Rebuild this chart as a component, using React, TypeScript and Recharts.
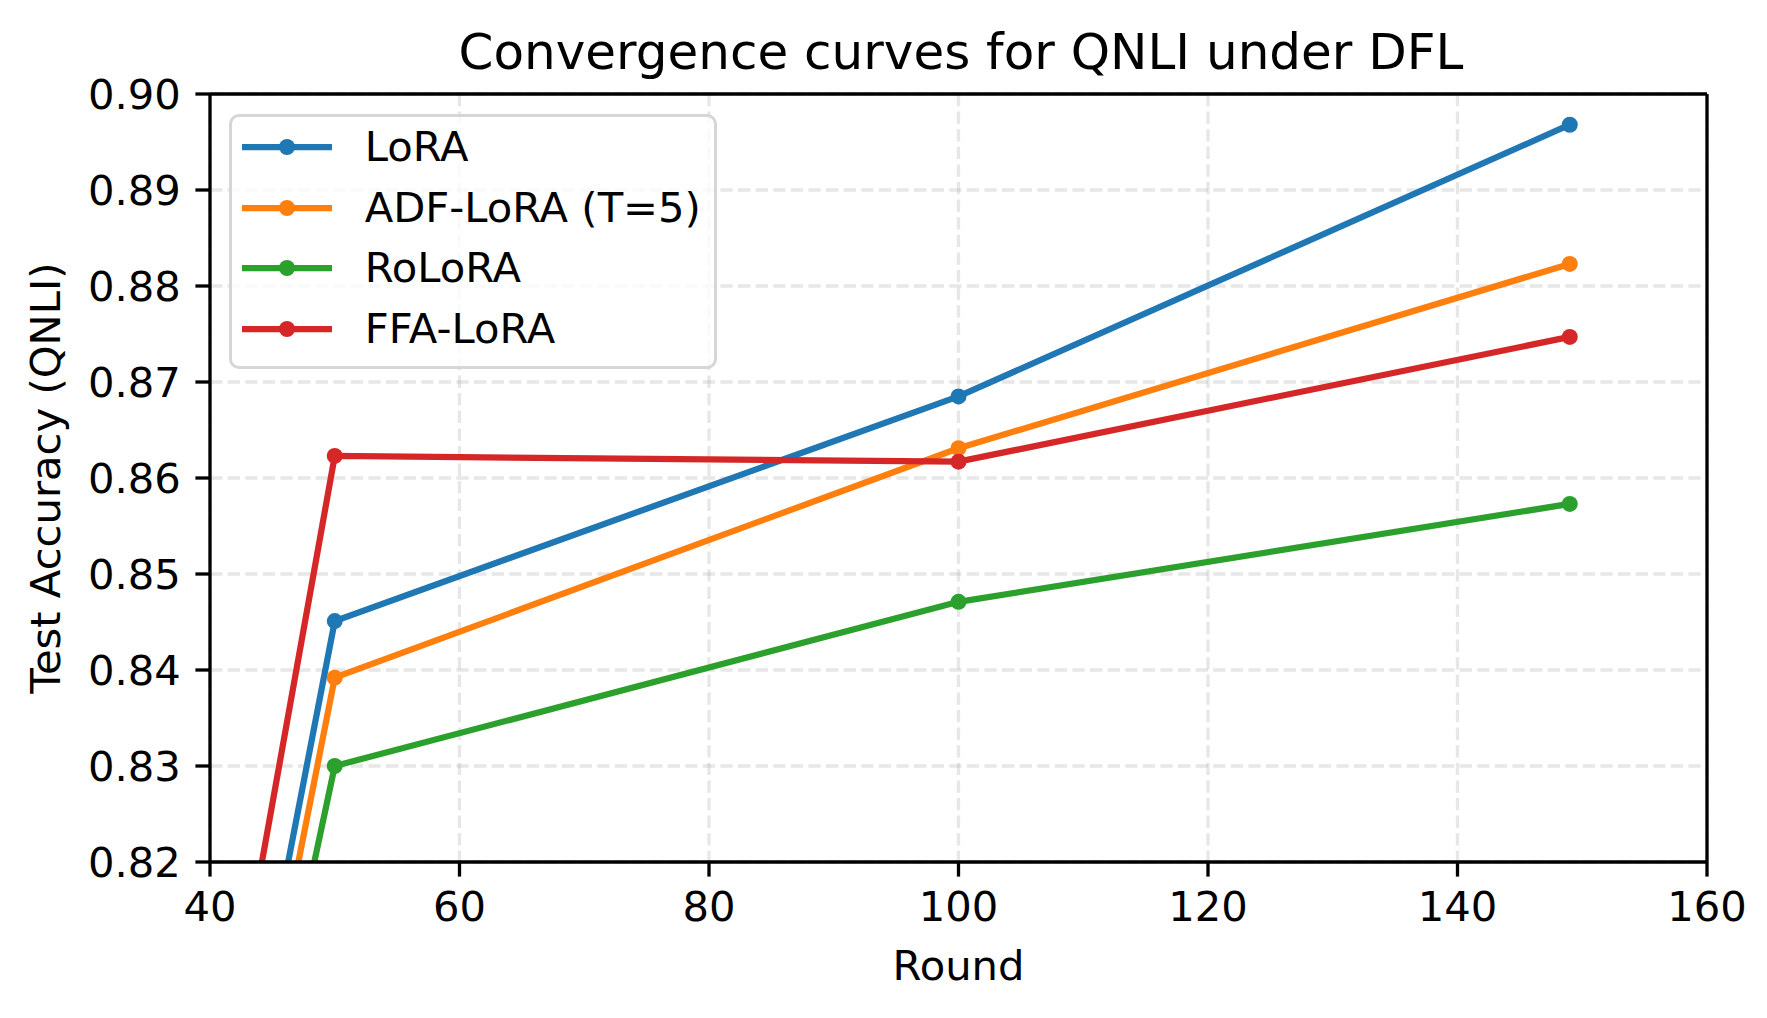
import React from "react";
import {
  CartesianGrid,
  Label,
  Legend,
  Line,
  LineChart,
  ReferenceLine,
  XAxis,
  YAxis,
} from "recharts";

// rounds at which the test accuracy was evaluated (first point sits off-axis)
const rounds = [0, 50, 100, 149];

const loraAcc = [0.509, 0.8451, 0.8685, 0.8968];
const adfLoraAcc = [0.51, 0.8392, 0.8631, 0.8823];
const roLoraAcc = [0.525, 0.83, 0.8471, 0.8573];
const ffaLoraAcc = [0.5, 0.8623, 0.8617, 0.8747];

const xTicks = [40, 60, 80, 100, 120, 140, 160];
const yTicks = [0.82, 0.83, 0.84, 0.85, 0.86, 0.87, 0.88, 0.89, 0.9];

const series = [
  { key: "lora", name: "LoRA", color: "#1f77b4", values: loraAcc },
  { key: "adf", name: "ADF-LoRA (T=5)", color: "#ff7f0e", values: adfLoraAcc },
  { key: "rolora", name: "RoLoRA", color: "#2ca02c", values: roLoraAcc },
  { key: "ffa", name: "FFA-LoRA", color: "#d62728", values: ffaLoraAcc },
];

const data = rounds.map((round, i) => {
  const row: Record<string, number> = { round };
  series.forEach((s) => {
    row[s.key] = s.values[i];
  });
  return row;
});

const FONT = "'DejaVu Sans', sans-serif";
const FS = 41.7;
const LW = 3.3;

// legend keeps the plotting order (recharts would sort it by name)
const renderLegend = () => (
  <div
    style={{
      border: "3px solid #d6d6d6",
      borderRadius: 10,
      background: "rgba(255,255,255,0.8)",
      width: 488,
      height: 255,
      boxSizing: "border-box",
      fontFamily: FONT,
      fontSize: FS,
    }}
  >
    {series.map((s) => (
      <div key={s.key} style={{ height: 60.5, display: "flex", alignItems: "center" }}>
        <svg width={90} height={20} style={{ marginLeft: 10.4 }}>
          <line x1={0} y1={10} x2={90} y2={10} stroke={s.color} strokeWidth={6.25} />
          <circle cx={45} cy={10} r={8} fill={s.color} />
        </svg>
        <span style={{ marginLeft: 32.3, lineHeight: 1, color: "#000" }}>{s.name}</span>
      </div>
    ))}
  </div>
);

const renderYLabel = (props: any) => {
  const vb = props.viewBox || { x: 82, y: 86, width: 120, height: 768 };
  const x = vb.x - 30;
  const y = vb.y + vb.height / 2;
  return (
    <text
      x={x}
      y={y}
      transform={`rotate(-90 ${x} ${y})`}
      textAnchor="middle"
      fontFamily={FONT}
      fontSize={FS}
      fill="#000"
    >
      Test Accuracy (QNLI)
    </text>
  );
};

export default function App() {
  return (
    <div style={{ position: "relative", width: 1759, height: 1010, fontFamily: FONT }}>
      <div
        style={{
          position: "absolute",
          left: 450.5,
          width: 1000,
          top: 19,
          textAlign: "center",
          fontSize: 50,
          lineHeight: "50px",
          color: "#000",
          whiteSpace: "nowrap",
        }}
      >
        Convergence curves for QNLI under DFL
      </div>
      <LineChart
        width={1759}
        height={1010}
        data={data}
        margin={{ top: 86, right: 60, bottom: 36, left: 82 }}
      >
        <CartesianGrid
          stroke="#b0b0b0"
          strokeOpacity={0.3}
          strokeWidth={LW}
          strokeDasharray="12.3 5.3"
          horizontalValues={yTicks}
          verticalValues={xTicks}
        />
        <XAxis
          dataKey="round"
          type="number"
          domain={[40, 160]}
          ticks={xTicks}
          allowDataOverflow
          height={120}
          stroke="#000"
          axisLine={{ stroke: "#000", strokeWidth: LW }}
          tickLine={{ stroke: "#000", strokeWidth: LW }}
          tickSize={14.6}
          tickMargin={14.6}
          tick={{ fill: "#000", fontSize: FS, fontFamily: FONT }}
        >
          <Label
            value="Round"
            position="insideBottom"
            offset={2}
            fill="#000"
            fontSize={FS}
            fontFamily={FONT}
          />
        </XAxis>
        <YAxis
          type="number"
          domain={[0.82, 0.9]}
          ticks={yTicks}
          allowDataOverflow
          width={120}
          axisLine={{ stroke: "#000", strokeWidth: LW }}
          tickLine={{ stroke: "#000", strokeWidth: LW }}
          tickSize={14.6}
          tickMargin={14.6}
          tickFormatter={(v: number) => v.toFixed(2)}
          tick={{ fill: "#000", fontSize: FS, fontFamily: FONT }}
        >
          <Label content={renderYLabel} />
        </YAxis>
        {series.map((s) => (
          <Line
            key={s.key}
            dataKey={s.key}
            name={s.name}
            type="linear"
            stroke={s.color}
            strokeWidth={6.25}
            dot={{ r: 8, fill: s.color, stroke: "none" }}
            activeDot={false}
            isAnimationActive={false}
          />
        ))}
        {/* top and right spines */}
        <ReferenceLine y={0.9} stroke="#000" strokeWidth={LW} />
        <ReferenceLine x={160} stroke="#000" strokeWidth={LW} />
        <Legend
          layout="vertical"
          align="center"
          verticalAlign="middle"
          content={renderLegend}
          wrapperStyle={{ top: 106, left: 221, width: "auto", height: "auto" }}
        />
      </LineChart>
    </div>
  );
}
